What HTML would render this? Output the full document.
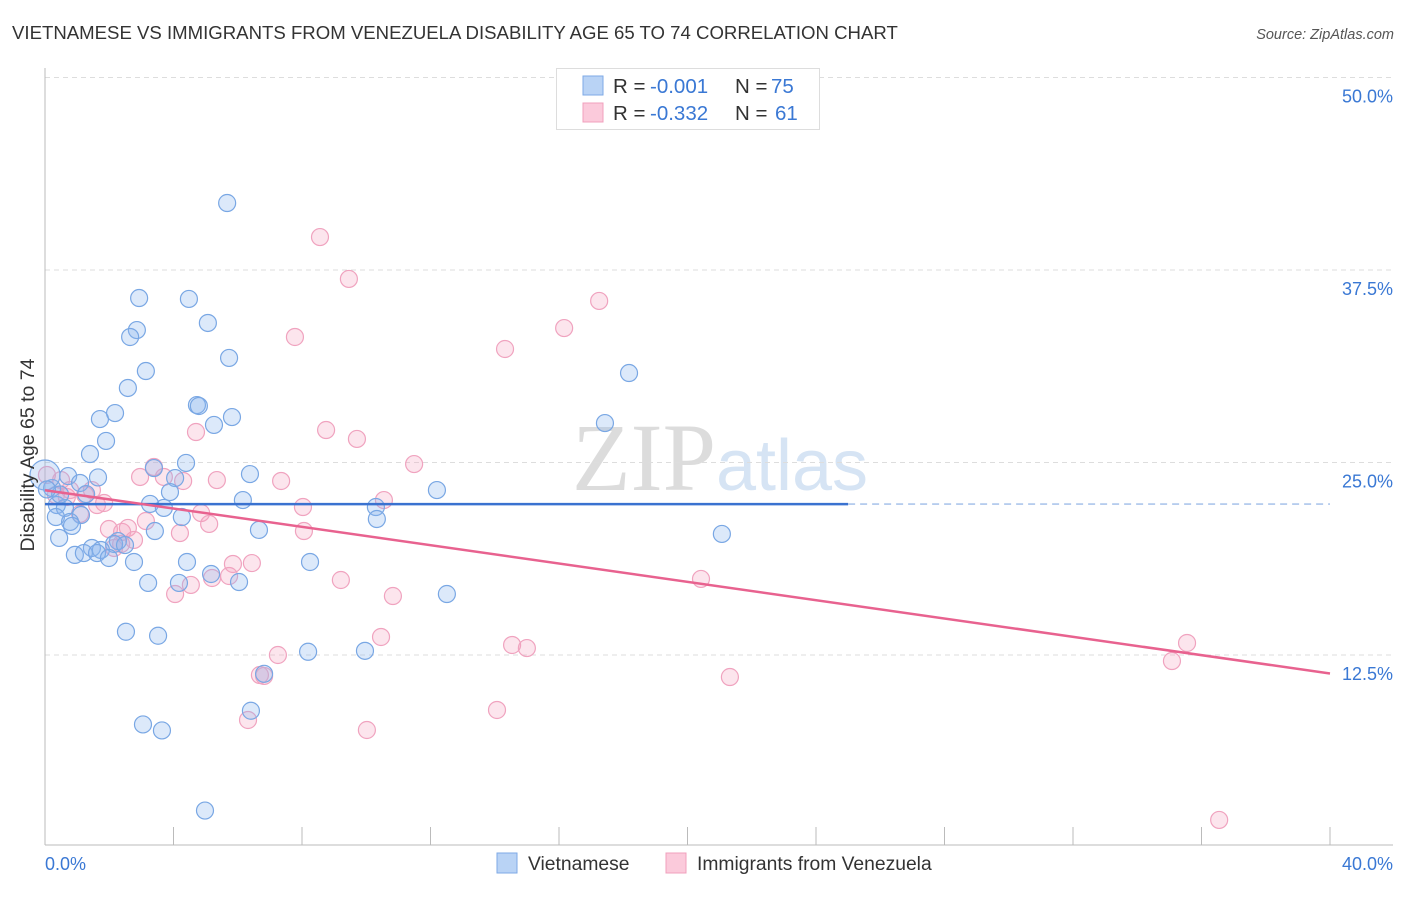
<!DOCTYPE html>
<html><head><meta charset="utf-8">
<style>
body{margin:0;background:#fff;font-family:"Liberation Sans",sans-serif;}
svg text{font-family:"Liberation Sans",sans-serif;}
</style></head>
<body>
<svg id="chart" width="1406" height="892" xmlns="http://www.w3.org/2000/svg">
<text x="12" y="39" font-size="18.6" fill="#333">VIETNAMESE VS IMMIGRANTS FROM VENEZUELA DISABILITY AGE 65 TO 74 CORRELATION CHART</text>
<text x="1394" y="39" font-size="14.5" fill="#555" font-style="italic" text-anchor="end">Source: ZipAtlas.com</text>
<text x="720" y="490" font-size="96" fill="#e4e4e4" text-anchor="middle" font-family="Liberation Serif"><tspan fill="#dcdcdc" font-family="Liberation Serif">ZIP</tspan><tspan fill="#d6e4f4" font-family="Liberation Sans" font-size="72">atlas</tspan></text>
<g id="grid"></g>
<g id="axes"></g>
<g id="marks"></g>
<text transform="translate(34,455) rotate(-90)" font-size="19.5" fill="#333" text-anchor="middle">Disability Age 65 to 74</text>
<g>
<rect x="556.5" y="68.5" width="263" height="61" fill="#fff" stroke="#ddd"/>
<rect x="583" y="76" width="20" height="19" fill="#b9d3f5" stroke="#7eaae6"/>
<rect x="583" y="103" width="20" height="19" fill="#fbcadb" stroke="#f0a0bc"/>
<text x="613" y="93" font-size="20.5" fill="#333">R =</text>
<text x="650" y="93" font-size="20.5" fill="#3a78d4">-0.001</text>
<text x="735" y="93" font-size="20.5" fill="#333">N =</text>
<text x="771" y="93" font-size="20.5" fill="#3a78d4">75</text>
<text x="613" y="120" font-size="20.5" fill="#333">R =</text>
<text x="650" y="120" font-size="20.5" fill="#3a78d4">-0.332</text>
<text x="735" y="120" font-size="20.5" fill="#333">N =</text>
<text x="775" y="120" font-size="20.5" fill="#3a78d4">61</text>
</g>
<g>
<rect x="497" y="853" width="20" height="20" fill="#b9d3f5" stroke="#7eaae6"/>
<text x="528" y="870" font-size="19.3" fill="#333">Vietnamese</text>
<rect x="666" y="853" width="20" height="20" fill="#fbcadb" stroke="#f0a0bc"/>
<text x="697" y="870" font-size="19.3" fill="#333">Immigrants from Venezuela</text>
</g>
</svg>
<script>
const yTicks=[12.5,25,37.5,50];
const yTickLabels=["12.5%","25.0%","37.5%","50.0%"];
const xTickVals=[0,4,8,12,16,20,24,28,32,36,40];
const xEndLabels=["0.0%","40.0%"];
const blueX=[5.67,2.93,4.48,5.07,2.86,2.65,5.73,3.14,18.18,2.58,4.73,4.79,2.18,5.82,1.71,5.26,17.43,1.90,1.40,3.39,4.39,1.65,6.38,0.72,1.09,4.05,3.89,0.22,1.28,12.20,6.16,3.27,0.37,3.70,10.30,0.62,1.12,4.26,0.34,10.33,0.78,0.84,6.66,3.42,21.07,0.44,2.27,2.15,1.46,1.74,0.93,1.21,1.62,1.99,2.77,4.42,8.25,5.17,3.21,4.17,6.04,12.51,2.52,3.52,8.19,9.96,6.82,6.41,3.05,3.64,4.98,0.0,0.47,0.06,2.49];
const blueY=[41.85,35.68,35.62,34.06,33.60,33.15,31.79,30.94,30.81,29.84,28.73,28.67,28.21,27.95,27.82,27.44,27.56,26.40,25.55,24.64,24.97,24.03,24.25,24.12,23.67,23.99,23.08,23.34,22.95,23.21,22.56,22.31,22.24,22.05,22.11,22.05,21.59,21.46,21.46,21.33,21.14,20.88,20.62,20.55,20.36,20.10,19.90,19.71,19.45,19.32,19.00,19.12,19.12,18.80,18.54,18.54,18.54,17.76,17.18,17.18,17.24,16.46,14.01,13.75,12.71,12.77,11.28,8.88,7.99,7.60,2.40,24.19,22.92,23.25,19.64];
const pinkX=[8.56,9.46,17.25,16.16,7.78,14.32,8.75,9.71,4.70,11.49,3.39,2.96,3.70,5.35,4.30,7.35,0.06,0.50,1.46,1.84,0.68,0.34,1.09,1.62,10.55,8.03,4.86,3.14,5.11,1.99,2.40,2.58,8.06,4.20,2.77,2.15,2.37,5.85,6.44,5.73,5.20,9.21,20.42,4.54,4.05,10.83,10.46,14.54,15.00,35.55,7.25,35.08,6.82,21.32,6.69,14.07,6.32,10.02,36.55,0.78,1.25];
const pinkY=[39.64,36.92,35.49,33.73,33.15,32.37,27.11,26.53,26.98,24.90,24.71,24.06,24.06,23.86,23.80,23.80,24.19,23.86,23.21,22.37,22.76,22.89,21.66,22.24,22.56,22.11,21.72,21.20,21.01,20.68,20.49,20.75,20.55,20.42,19.97,19.45,19.71,18.41,18.47,17.63,17.50,17.37,17.44,17.05,16.46,16.33,13.67,13.15,12.95,13.28,12.50,12.11,11.14,11.07,11.20,8.93,8.28,7.63,1.79,23.21,22.89];
const blueTrend=[0,22.3,25,22.3,40,22.3];
const pinkTrend=[0,23.2,40,11.3];

const NS="http://www.w3.org/2000/svg";
const X0=45,X1=1330,Y0=847.5,YS=15.4;
function xs(v){return X0+(X1-X0)*v/40;}
function ys(v){return Y0-YS*v;}
function mk(tag,attrs,parent){const e=document.createElementNS(NS,tag);for(const k in attrs)e.setAttribute(k,attrs[k]);parent.appendChild(e);return e;}
const grid=document.getElementById('grid'),axes=document.getElementById('axes'),marks=document.getElementById('marks');
yTicks.forEach((t,i)=>{
  const l=mk('line',{x1:45,x2:1393,y1:ys(t),y2:ys(t),stroke:'#ddd','stroke-dasharray':'5,4'},grid);
  
  
  const tx=mk('text',{x:1393,y:ys(t)+25,'font-size':18,fill:'#3a78d4','text-anchor':'end'},axes);
  tx.textContent=yTickLabels[i];
  
  
});
const ax=mk('line',{x1:45,x2:1393,y1:845,y2:845,stroke:'#bbb'},axes);


const ay=mk('line',{x1:45,x2:45,y1:68,y2:845,stroke:'#bbb'},axes);


xTickVals.forEach(v=>{
  const t=mk('line',{x1:xs(v),x2:xs(v),y1:827,y2:845,stroke:'#bbb'},axes);
  
  
});
[[0,'start',45],[40,'end',1393]].forEach((a,i)=>{
  const tx=mk('text',{x:a[2],y:870,'font-size':18,fill:'#3a78d4','text-anchor':a[1]},axes);
  tx.textContent=xEndLabels[i];
  
  
});
function dots(X,Y,fill,stroke,name){
  X.forEach((x,i)=>{
    const r=(x===0)?15:8.5;
    const c=mk('circle',{cx:xs(x),cy:ys(Y[i]),r:r,fill:fill,stroke:stroke,'stroke-width':1.2},marks);
    
    
  });
}
dots(pinkX,pinkY,'rgba(246,160,190,0.28)','#f0a3bf','point-venezuela');
dots(blueX,blueY,'rgba(140,182,238,0.3)','#79a7e4','point-vietnamese');
const bt=mk('line',{x1:xs(blueTrend[0]),y1:ys(blueTrend[1]),x2:xs(blueTrend[2]),y2:ys(blueTrend[3]),stroke:'#3a72d0','stroke-width':2.5},marks);


const bd=mk('line',{x1:xs(blueTrend[2]),y1:ys(blueTrend[3]),x2:xs(blueTrend[4]),y2:ys(blueTrend[5]),stroke:'#9dbce8','stroke-width':1.3,'stroke-dasharray':'7,5'},marks);


const pt=mk('line',{x1:xs(pinkTrend[0]),y1:ys(pinkTrend[1]),x2:xs(pinkTrend[2]),y2:ys(pinkTrend[3]),stroke:'#e8628f','stroke-width':2.5},marks);


</script>
</body></html>
